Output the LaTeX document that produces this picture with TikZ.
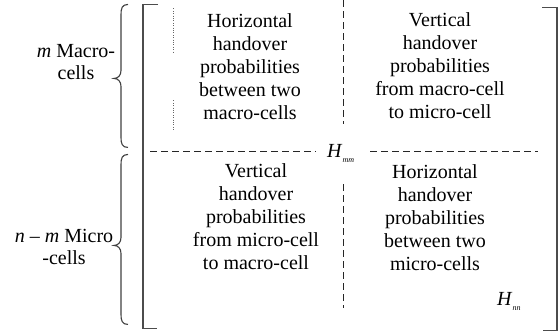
\documentclass[tikz,border=0pt]{standalone}
\usepackage{fontspec}
\newfontfamily\tnr{Liberation Serif}
\tikzset{
  bracketline/.style={draw=black!70,line width=1.4pt},
  dashline/.style={draw=black!85,line width=0.9pt,dash pattern=on 7pt off 4pt},
  dotline/.style={draw=black!60,line width=0.7pt,dash pattern=on 0.8pt off 1.6pt},
  bracestyle/.style={draw=black!75,line width=1.1pt},
  cell/.style={inner sep=0pt,anchor=north},
  hlab/.style={inner sep=0pt,anchor=base west}}
\newcommand{\celltext}[1]{\tnr\fontsize{20}{23}\selectfont\begin{tabular}{@{}c@{}}#1\end{tabular}}
\newcommand{\labtext}[1]{\tnr\fontsize{20}{22}\selectfont\begin{tabular}{@{}c@{}}#1\end{tabular}}
\begin{document}
\begin{tikzpicture}[x=1pt,y=-1pt]
\path (0,0) rectangle (560,333);
% left bracket
\coordinate (lt) at (158,4);
\coordinate (ltc) at (143,4);
\coordinate (lbc) at (143,328);
\coordinate (lb) at (157,328);
\draw[bracketline] (lt) -- (ltc) -- (lbc) -- (lb);
% right bracket
\coordinate (rt) at (542,7);
\coordinate (rtc) at (557,7);
\coordinate (rbc) at (557,330);
\coordinate (rb) at (543,330);
\draw[bracketline] (rt) -- (rtc) -- (rbc) -- (rb);
% dashed dividers
\coordinate (v1a) at (343,0);
\coordinate (v1b) at (343,124);
\coordinate (v2a) at (343,184);
\coordinate (v2b) at (343,308);
\draw[dashline] (v1a) -- (v1b);
\draw[dashline] (v2a) -- (v2b);
\coordinate (h1a) at (150,151);
\coordinate (h1b) at (316,151);
\coordinate (h2a) at (370,151);
\coordinate (h2b) at (538,151);
\draw[dashline] (h1a) -- (h1b);
\draw[dashline] (h2a) -- (h2b);
% dotted marks
\coordinate (d1a) at (173,8);
\coordinate (d1b) at (173,52);
\coordinate (d2a) at (173,100);
\coordinate (d2b) at (173,130);
\draw[dotline] (d1a) -- (d1b);
\draw[dotline] (d2a) -- (d2b);
% braces
\draw[bracestyle] (128,4) .. controls (122,4) and (121,8) .. (121,14) -- (121,70)
  .. controls (121,75) and (118,78) .. (114,78)
  .. controls (118,78) and (121,81) .. (121,86) -- (121,137)
  .. controls (121,143) and (122,147) .. (128,147);
\draw[bracestyle] (128,154) .. controls (122,154) and (121,158) .. (121,164) -- (121,237)
  .. controls (121,242) and (118,245) .. (114,245)
  .. controls (118,245) and (121,248) .. (121,253) -- (121,314)
  .. controls (121,320) and (122,324) .. (128,324);
% cell texts
\node[cell] (tl) at (250,10.4) {\celltext{Horizontal\\handover\\probabilities\\between two\\macro-cells}};
\node[cell] (tr) at (440,9.4) {\celltext{Vertical\\handover\\probabilities\\from macro-cell\\to micro-cell}};
\node[cell] (bl) at (256,160.9) {\celltext{Vertical\\handover\\probabilities\\from micro-cell\\to macro-cell}};
\node[cell] (br) at (435,161.9) {\celltext{Horizontal\\handover\\probabilities\\between two\\micro-cells}};
% side labels
\node[cell] (ma) at (76,41.8) {\labtext{\textit{m} Macro-\\cells}};
\node[cell] (mi) at (64,226.8) {\labtext{\textit{n} – \textit{m} Micro\\-cells}};
% H labels
\node[hlab] (hmm) at (327,157) {\tnr\fontsize{20}{22}\selectfont\textit{H}\lower5pt\hbox{\fontsize{8}{8}\selectfont\textit{mm}}};
\node[hlab] (hnn) at (497,305) {\tnr\fontsize{20}{22}\selectfont\textit{H}\lower5pt\hbox{\fontsize{8}{8}\selectfont\textit{nn}}};
\end{tikzpicture}
\end{document}
